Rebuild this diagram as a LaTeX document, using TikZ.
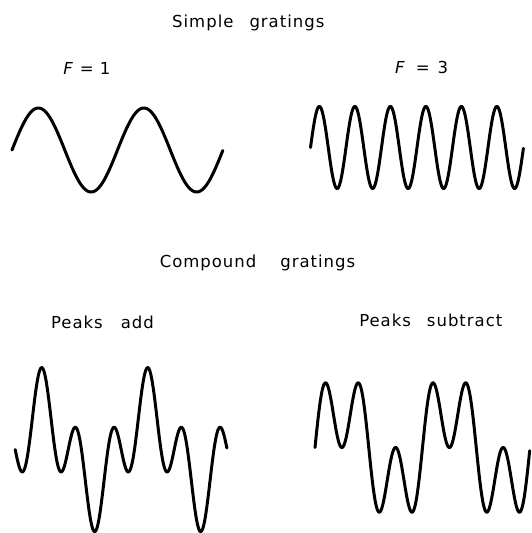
\documentclass[tikz,border=0pt]{standalone}
\usepackage{fontspec}
\setmainfont[LetterSpace=6]{DejaVu Sans}
\begin{document}
\begin{tikzpicture}[x=1pt,y=-1pt,
  wave/.style={line width=3pt,line join=round,line cap=round},
  lbl/.style={anchor=base,inner sep=0pt,font=\fontsize{16.5}{18}\selectfont}]
\useasboundingbox (0,0) rectangle (532,533);
% titles and labels
\node[lbl] (simple) at (248.3,27.3) {Simple\hspace{16pt}gratings};
\node[lbl] (f1) at (86.8,74.5) {\textit{F}\hspace{6pt}=\hspace{6pt}1};
\node[lbl] (f3) at (421.7,73.5) {\textit{F}\hspace{10pt}=\hspace{8pt}3};
\node[lbl] (compound) at (257.5,267.3) {Compound\hspace{24pt}gratings};
\node[lbl] (add) at (102.5,328.3) {Peaks\hspace{18pt}add};
\node[lbl] (sub) at (430.8,326.7) {Peaks\hspace{16pt}subtract};
% simple gratings
\draw[wave] plot[domain=0:2,samples=200,smooth] ({12+105.5*\x},{150-42*sin(360*\x)});
\draw[wave] plot[domain=0:6,samples=400,smooth] ({310.5+35.5*\x},{147.5-41*sin(360*\x)});
% compound gratings
\draw[wave] plot[domain=-0.25:1.75,samples=400,smooth] ({41.7+106*\x},{449.6-41*(cos(360*\x)+cos(1080*\x))});
\draw[wave] plot[domain=0:2,samples=400,smooth] ({315+107.5*\x},{447.5-42*(sin(360*\x)+sin(1080*\x))});
\end{tikzpicture}
\end{document}
